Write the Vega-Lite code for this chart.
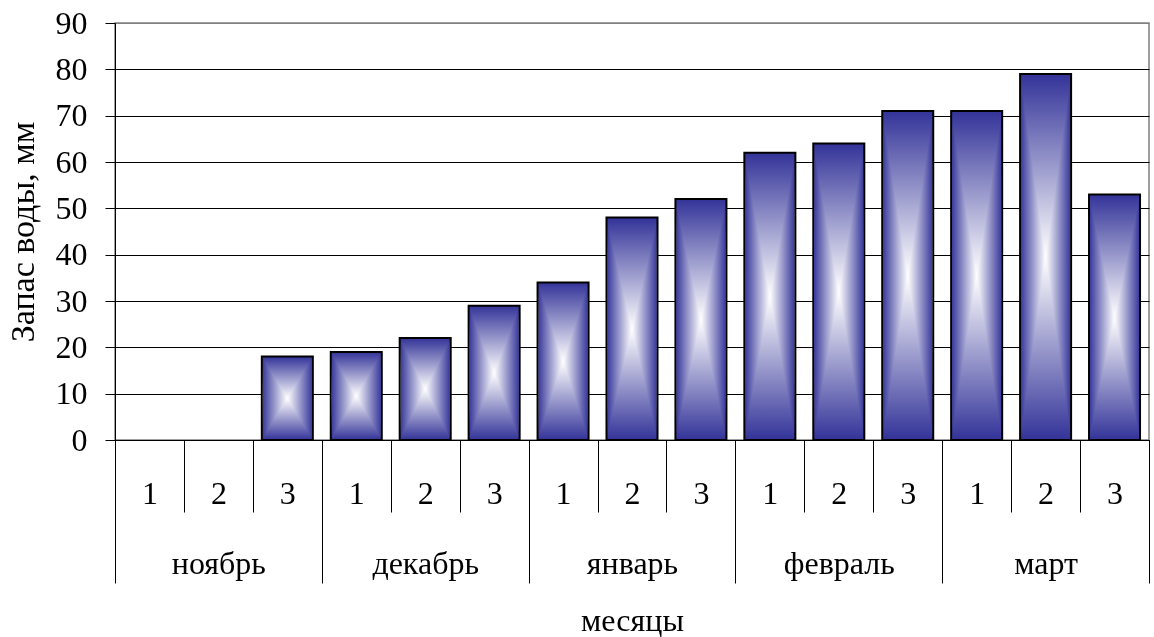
{
  "$schema": "https://vega.github.io/schema/vega-lite/v6.json",
  "width": 1034,
  "height": 417,
  "autosize": {"type": "none"},
  "padding": {"left": 115, "top": 23, "right": 5, "bottom": 197},
  "background": "white",
  "config": {
    "view": {"stroke": "#808080", "strokeWidth": 1.5},
    "font": "Liberation Serif",
    "axis": {
      "labelFont": "Liberation Serif",
      "labelFontSize": 32,
      "labelColor": "black",
      "titleFont": "Liberation Serif",
      "titleFontSize": 32,
      "titleFontWeight": "normal",
      "titleColor": "black",
      "domainColor": "black",
      "tickColor": "black",
      "tickWidth": 1,
      "domainWidth": 1
    }
  },
  "datasets": {
    "decades": [
      {"month": "ноябрь", "decade": "1", "key": "ноябрь 1", "value": 0},
      {"month": "ноябрь", "decade": "2", "key": "ноябрь 2", "value": 0},
      {"month": "ноябрь", "decade": "3", "key": "ноябрь 3", "value": 18},
      {"month": "декабрь", "decade": "1", "key": "декабрь 1", "value": 19},
      {"month": "декабрь", "decade": "2", "key": "декабрь 2", "value": 22},
      {"month": "декабрь", "decade": "3", "key": "декабрь 3", "value": 29},
      {"month": "январь", "decade": "1", "key": "январь 1", "value": 34},
      {"month": "январь", "decade": "2", "key": "январь 2", "value": 48},
      {"month": "январь", "decade": "3", "key": "январь 3", "value": 52},
      {"month": "февраль", "decade": "1", "key": "февраль 1", "value": 62},
      {"month": "февраль", "decade": "2", "key": "февраль 2", "value": 64},
      {"month": "февраль", "decade": "3", "key": "февраль 3", "value": 71},
      {"month": "март", "decade": "1", "key": "март 1", "value": 71},
      {"month": "март", "decade": "2", "key": "март 2", "value": 79},
      {"month": "март", "decade": "3", "key": "март 3", "value": 53}
    ],
    "months": [
      {"month": "ноябрь"},
      {"month": "декабрь"},
      {"month": "январь"},
      {"month": "февраль"},
      {"month": "март"}
    ]
  },
  "layer": [
    {
      "data": {"name": "decades"},
      "encoding": {
        "x": {
          "field": "key",
          "type": "nominal",
          "scale": {
            "type": "band",
            "domain": ["ноябрь 1", "ноябрь 2", "ноябрь 3", "декабрь 1", "декабрь 2", "декабрь 3", "январь 1", "январь 2", "январь 3", "февраль 1", "февраль 2", "февраль 3", "март 1", "март 2", "март 3"],
            "paddingInner": 0,
            "paddingOuter": 0
          },
          "axis": {
            "orient": "bottom",
            "title": null,
            "labelExpr": "slice(datum.label, -1)",
            "labelAngle": 0,
            "labelBaseline": "middle",
            "labelPadding": -19,
            "tickBand": "extent",
            "tickSize": 72,
            "domain": true,
            "labelOverlap": false
          }
        },
        "y": {
          "field": "value",
          "type": "quantitative",
          "title": "Запас воды, мм",
          "scale": {"domain": [0, 90], "nice": false},
          "axis": {
            "values": [0, 10, 20, 30, 40, 50, 60, 70, 80, 90],
            "grid": true,
            "gridColor": {"condition": {"test": "datum.value === 90", "value": "#808080"}, "value": "black"},
            "gridWidth": 1,
            "tickSize": 10,
            "labelPadding": 18,
            "titleFontSize": 34,
            "titlePadding": 15
          }
        }
      },
      "layer": [
        {
          "mark": {
            "type": "bar",
            "width": {"band": 0.74},
            "fill": {
              "gradient": "linear",
              "x1": 0, "y1": 0, "x2": 1, "y2": 0,
              "stops": [
                {"offset": 0, "color": "#333399"},
                {"offset": 0.5, "color": "#ffffff"},
                {"offset": 1, "color": "#333399"}
              ]
            }
          }
        },
        {
          "transform": [{"filter": "datum.value > 0"}],
          "mark": {
            "type": "bar",
            "width": {"band": 0.74},
            "blend": "darken",
            "stroke": "black",
            "strokeWidth": 2,
            "fill": {
              "gradient": "linear",
              "x1": 0, "y1": 0, "x2": 0, "y2": 1,
              "stops": [
                {"offset": 0, "color": "#333399"},
                {"offset": 0.5, "color": "#ffffff"},
                {"offset": 1, "color": "#333399"}
              ]
            }
          }
        }
      ]
    },
    {
      "data": {"name": "months"},
      "mark": {"type": "rule", "opacity": 0},
      "encoding": {
        "x": {
          "field": "month",
          "type": "nominal",
          "sort": null,
          "scale": {"type": "band", "paddingInner": 0, "paddingOuter": 0},
          "axis": {
            "orient": "bottom",
            "title": "месяцы",
            "labelAngle": 0,
            "labelBaseline": "middle",
            "labelPadding": -20,
            "tickBand": "extent",
            "tickSize": 143,
            "domain": false,
            "titlePadding": 22,
            "labelOverlap": false
          }
        }
      }
    }
  ],
  "resolve": {"scale": {"x": "independent"}, "axis": {"x": "independent"}}
}
